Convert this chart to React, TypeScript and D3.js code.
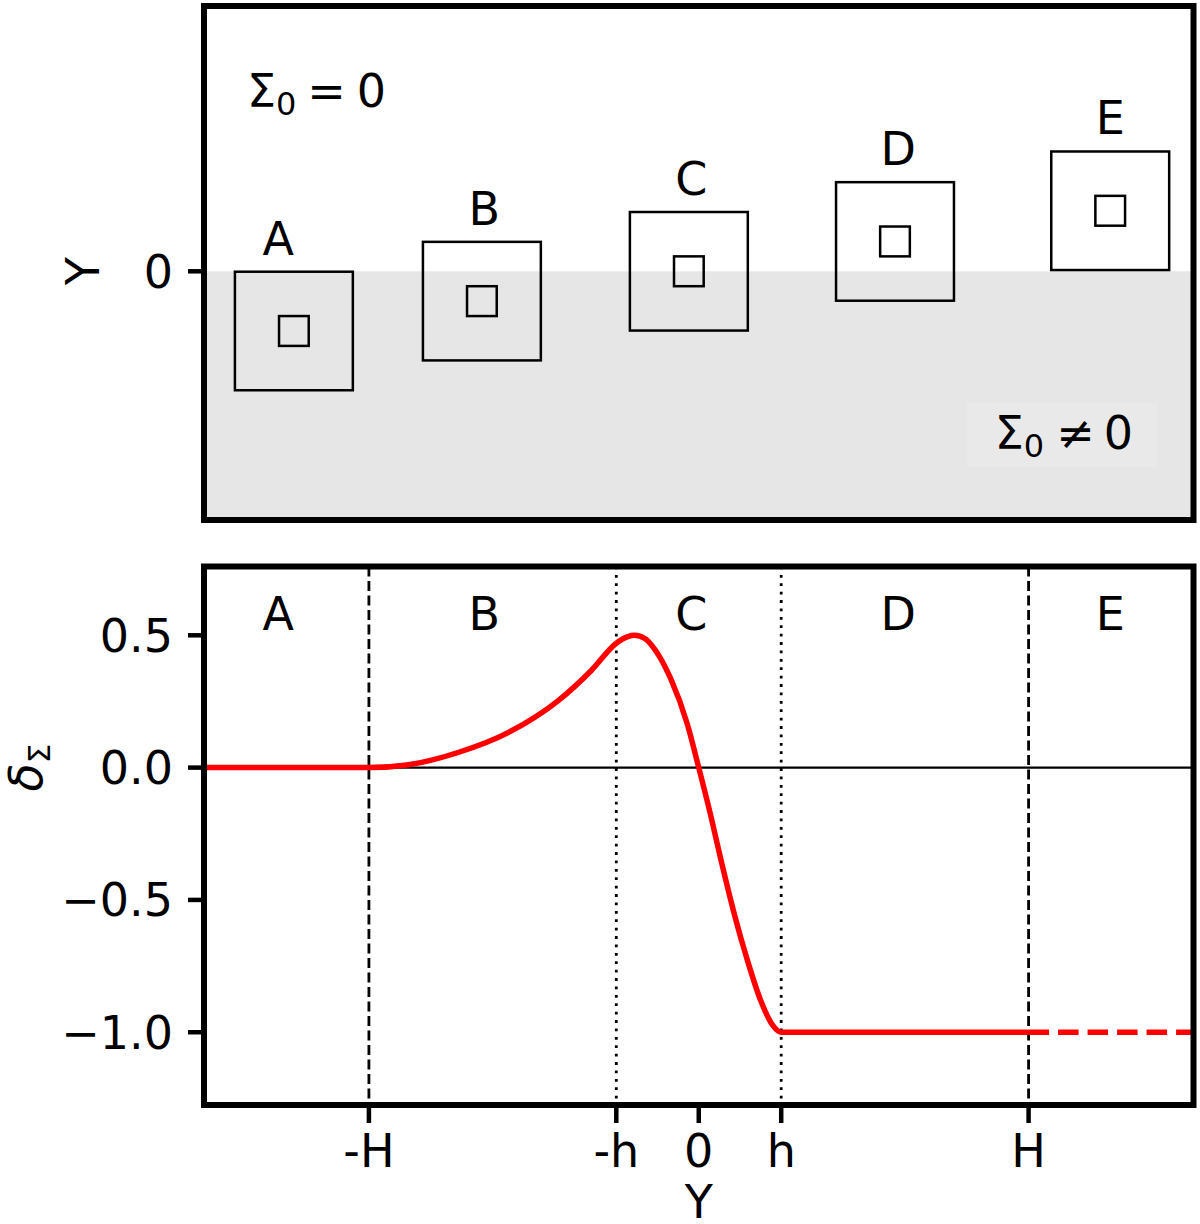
import React from "react";
import * as d3 from "d3";

// shared horizontal coordinate Y (H = 4, h = 1)
const xTickVals = [-4, -1, 0, 1, 4];
const xTickLabels = ["-H", "-h", "0", "h", "H"];
const dashedAt = [-4, 4];
const dottedAt = [-1, 1];

// lower panel: delta_Sigma(Y)
const yTickVals = [0.5, 0, -0.5, -1];
const yTickLabels = ["0.5", "0.0", "\u22120.5", "\u22121.0"];
const curveY = [-6, -4, -3.5, -2.9, -2.3, -1.7, -1.3, -1.0, -0.86, -0.78, -0.65, -0.54, -0.34, -0.14, 0, 0.15, 0.27, 0.43, 0.59, 0.75, 0.9, 1.0, 4.0];
const curveDelta = [0, 0, 0.012, 0.059, 0.134, 0.254, 0.368, 0.47, 0.495, 0.5, 0.487, 0.45, 0.336, 0.166, 0, -0.187, -0.35, -0.552, -0.728, -0.879, -0.975, -1.0, -1.0];
const tailY = [4, 6];
const tailDelta = [-1, -1];

// region letters
const regionLabels = ["A", "B", "C", "D", "E"];
const regionLabelX = [-5.1, -2.6, -0.09, 2.42, 4.99];

// upper panel: boxes
const boxX = [-4.91, -2.63, -0.12, 2.38, 4.99];
const boxY = [-0.72, -0.36, 0, 0.36, 0.73];

const FONT = "DejaVu Sans, sans-serif";
const FS = 46;
const BIG = 0.715;
const SMALL = 0.18;

export default function App() {
  const left = 204, right = 1193.5;
  const top1 = 6, bot1 = 520;
  const top2 = 566.5, bot2 = 1105;

  const x = d3.scaleLinear().domain([-6, 6]).range([left, right]);
  const yTop = d3.scaleLinear().domain([-3.0, 3.2]).range([bot1, top1]);
  const y = d3.scaleLinear().domain([-1.275, 0.76]).range([bot2, top2]);

  const line = d3.line<number>()
    .x((d, i) => x(curveY[i]))
    .y((d) => y(d))
    .curve(d3.curveMonotoneX);
  const tail = d3.line<number>()
    .x((d, i) => x(tailY[i]))
    .y((d) => y(d));

  const boxRect = (cx: number, cy: number, half: number, key: string) => {
    const x0 = x(cx - half), x1 = x(cx + half);
    const y0 = yTop(cy + half), y1 = yTop(cy - half);
    return <rect key={key} x={x0} y={y0} width={x1 - x0} height={y1 - y0}
      fill="none" stroke="#000" strokeWidth={2.5} />;
  };

  // text anchors in upper panel
  const s0x = x(-5.48), s0y = yTop(1.98);
  const s1x = x(3.59), s1y = yTop(-2.14);

  return (
    <svg width={1200} height={1224} style={{ position: "absolute", left: 0, top: 0 }}
      fontFamily={FONT}>
      <rect x={0} y={0} width={1200} height={1224} fill="#fff" />

      {/* ---------- upper panel ---------- */}
      <rect x={left} y={yTop(0)} width={right - left} height={bot1 - yTop(0)} fill="#e6e6e6" />
      <rect x={s1x - 28} y={s1y - 46} width={190} height={64} fill="#e9e9e9" />
      <text x={s0x} y={s0y} fontSize={FS}>
        <tspan>Σ</tspan>
        <tspan fontSize={32} dy={8}>0</tspan>
        <tspan dy={-8} dx={11}>=</tspan>
        <tspan dx={11}>0</tspan>
      </text>
      <text x={s1x} y={s1y} fontSize={FS}>
        <tspan>Σ</tspan>
        <tspan fontSize={32} dy={8}>0</tspan>
        <tspan dy={-8} dx={12}>≠</tspan>
        <tspan dx={9}>0</tspan>
      </text>
      {boxX.map((bx, i) => (
        <g key={"b" + i}>
          {boxRect(bx, boxY[i], BIG, "big" + i)}
          {boxRect(bx, boxY[i], SMALL, "sm" + i)}
          <text x={x(regionLabelX[i])} y={yTop(boxY[i] + BIG) - 17} fontSize={FS}
            textAnchor="middle">{regionLabels[i]}</text>
        </g>
      ))}
      <line x1={left - 16} x2={left} y1={yTop(0)} y2={yTop(0)} stroke="#000" strokeWidth={4.5} />
      <text x={173} y={yTop(0) + 16.5} fontSize={FS} textAnchor="end">0</text>
      <text transform={`translate(99,${yTop(0)}) rotate(-90)`} fontSize={FS} textAnchor="middle">Y</text>
      <rect x={left} y={top1} width={right - left} height={bot1 - top1} fill="none"
        stroke="#000" strokeWidth={6} />

      {/* ---------- lower panel ---------- */}
      <line x1={left} x2={right} y1={y(0)} y2={y(0)} stroke="#000" strokeWidth={2.2} />
      {dashedAt.map((v) => (
        <line key={"d" + v} x1={x(v)} x2={x(v)} y1={top2} y2={bot2}
          stroke="#000" strokeWidth={2.8} strokeDasharray="10,4.5" />
      ))}
      {dottedAt.map((v) => (
        <line key={"o" + v} x1={x(v)} x2={x(v)} y1={top2} y2={bot2}
          stroke="#000" strokeWidth={2.8} strokeDasharray="2.8,5.6" />
      ))}
      <path d={line(curveDelta) || ""} fill="none" stroke="#ff0000" strokeWidth={5.5}
        strokeLinejoin="round" />
      <path d={tail(tailDelta) || ""} fill="none" stroke="#ff0000" strokeWidth={5.5}
        strokeDasharray="20.5,9" />
      {regionLabels.map((l, i) => (
        <text key={"r" + l} x={x(regionLabelX[i])} y={630} fontSize={FS}
          textAnchor="middle">{l}</text>
      ))}
      {yTickVals.map((v, i) => (
        <g key={"yt" + v}>
          <line x1={left - 16} x2={left} y1={y(v)} y2={y(v)} stroke="#000" strokeWidth={4.5} />
          <text x={173} y={y(v) + 16.5} fontSize={FS} textAnchor="end">{yTickLabels[i]}</text>
        </g>
      ))}
      {xTickVals.map((v, i) => (
        <g key={"xt" + v}>
          <line x1={x(v)} x2={x(v)} y1={bot2} y2={bot2 + 18} stroke="#000" strokeWidth={4.5} />
          <text x={x(v)} y={1167} fontSize={FS} textAnchor="middle">{xTickLabels[i]}</text>
        </g>
      ))}
      <text x={x(0)} y={1218} fontSize={FS} textAnchor="middle">Y</text>
      <text transform={`translate(42,${y(0)}) rotate(-90)`} fontSize={FS} textAnchor="middle">
        <tspan fontStyle="italic">δ</tspan>
        <tspan fontSize={31} dy={8}>Σ</tspan>
      </text>
      <rect x={left} y={top2} width={right - left} height={bot2 - top2} fill="none"
        stroke="#000" strokeWidth={6} />
    </svg>
  );
}
